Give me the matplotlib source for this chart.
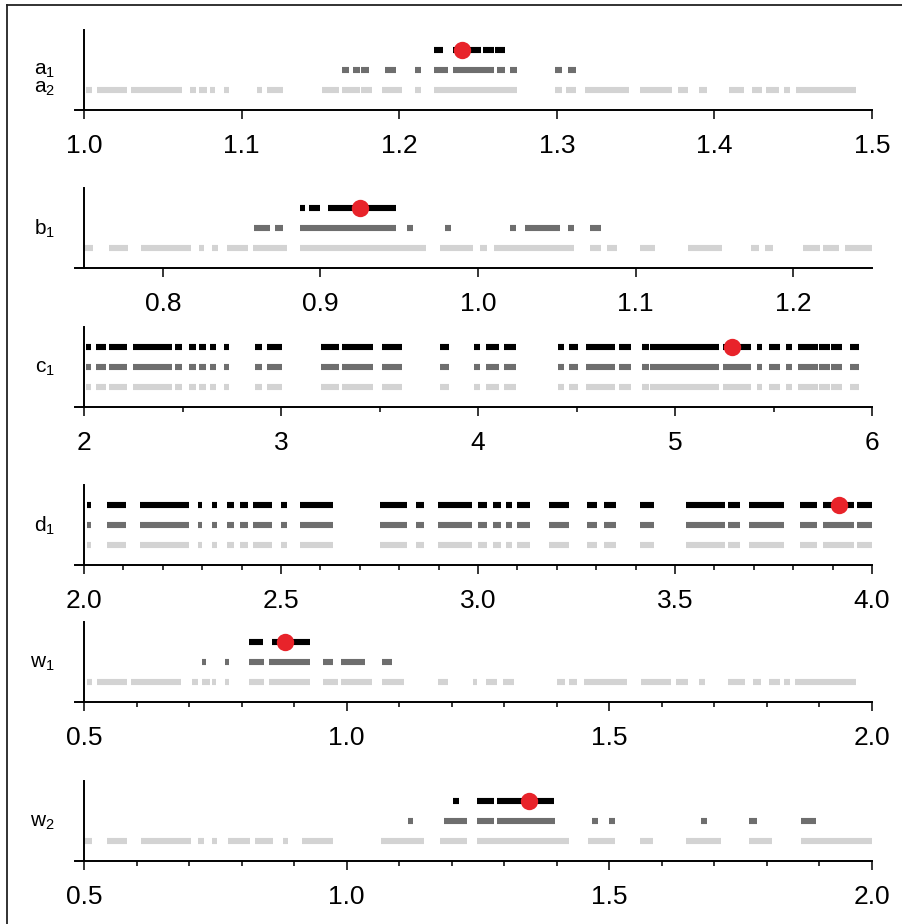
import matplotlib
matplotlib.use("Agg")
import matplotlib.pyplot as plt
from matplotlib.lines import Line2D
from matplotlib.ticker import MultipleLocator, FormatStrFormatter

plt.rcParams["font.family"] = ["Liberation Sans", "DejaVu Sans"]
plt.rcParams["mathtext.fontset"] = "custom"
plt.rcParams["mathtext.rm"] = "Liberation Sans"

# accepted intervals per parameter: three rows (black, dark grey, light grey) and the best fit (red)
a_black = [(1.222, 1.228), (1.234, 1.252), (1.253, 1.260), (1.261, 1.267)]
a_gray = [(1.164, 1.168), (1.171, 1.175), (1.176, 1.181), (1.191, 1.198), (1.210, 1.214),
          (1.222, 1.231), (1.234, 1.260), (1.262, 1.267), (1.270, 1.275), (1.299, 1.303),
          (1.307, 1.312)]
a_light = [(1.001, 1.005), (1.008, 1.027), (1.030, 1.062), (1.067, 1.071), (1.073, 1.078),
           (1.080, 1.083), (1.089, 1.092), (1.110, 1.113), (1.116, 1.126), (1.151, 1.162),
           (1.164, 1.175), (1.176, 1.183), (1.189, 1.202), (1.210, 1.214), (1.222, 1.275),
           (1.299, 1.303), (1.306, 1.312), (1.318, 1.346), (1.353, 1.373), (1.377, 1.383),
           (1.390, 1.395), (1.409, 1.419), (1.424, 1.430), (1.433, 1.441), (1.444, 1.448),
           (1.452, 1.490)]
a_best = 1.240

b_black = [(0.887, 0.890), (0.893, 0.900), (0.905, 0.948)]
b_gray = [(0.858, 0.868), (0.871, 0.876), (0.887, 0.948), (0.955, 0.959), (0.979, 0.983),
          (1.020, 1.024), (1.030, 1.052), (1.057, 1.061), (1.071, 1.078)]
b_light = [(0.750, 0.756), (0.766, 0.778), (0.786, 0.818), (0.823, 0.826), (0.831, 0.835),
           (0.841, 0.854), (0.857, 0.879), (0.887, 0.967), (0.976, 0.997), (1.001, 1.006),
           (1.010, 1.061), (1.071, 1.078), (1.082, 1.088), (1.103, 1.112), (1.133, 1.155),
           (1.173, 1.178), (1.182, 1.187), (1.206, 1.217), (1.219, 1.229), (1.233, 1.250)]
b_best = 0.925

c_all = [(2.009, 2.038), (2.061, 2.111), (2.125, 2.219), (2.248, 2.446), (2.461, 2.499),
         (2.534, 2.569), (2.586, 2.621), (2.639, 2.668), (2.709, 2.738), (2.869, 2.904),
         (2.928, 3.007), (3.205, 3.292), (3.310, 3.468), (3.511, 3.613), (3.805, 3.855),
         (3.978, 4.008), (4.041, 4.105), (4.130, 4.195), (4.407, 4.436), (4.461, 4.509),
         (4.550, 4.695), (4.716, 4.775), (4.835, 4.868), (4.873, 5.221), (5.242, 5.386),
         (5.415, 5.443), (5.476, 5.535), (5.564, 5.593), (5.626, 5.725), (5.733, 5.786),
         (5.793, 5.847), (5.886, 5.932)]
c_best = 5.288

d_all = [(2.007, 2.019), (2.058, 2.106), (2.143, 2.267), (2.289, 2.299), (2.325, 2.337),
         (2.362, 2.381), (2.395, 2.416), (2.430, 2.478), (2.500, 2.515), (2.547, 2.632),
         (2.751, 2.821), (2.843, 2.862), (2.899, 2.985), (3.000, 3.023), (3.037, 3.058),
         (3.072, 3.087), (3.098, 3.131), (3.179, 3.230), (3.276, 3.303), (3.320, 3.349),
         (3.412, 3.446), (3.529, 3.627), (3.635, 3.664), (3.689, 3.776), (3.818, 3.861),
         (3.876, 3.954), (3.961, 4.000)]
d_best = 3.915

w1_black = [(0.815, 0.840), (0.858, 0.930)]
w1_gray = [(0.725, 0.733), (0.769, 0.776), (0.815, 0.842), (0.853, 0.930), (0.955, 0.974),
           (0.990, 1.034), (1.068, 1.086)]
w1_light = [(0.506, 0.516), (0.524, 0.582), (0.590, 0.684), (0.705, 0.717), (0.725, 0.739),
            (0.743, 0.752), (0.769, 0.776), (0.815, 0.842), (0.853, 0.930), (0.955, 0.983),
            (0.990, 1.048), (1.068, 1.109), (1.174, 1.193), (1.240, 1.249), (1.265, 1.287),
            (1.298, 1.319), (1.401, 1.416), (1.423, 1.438), (1.452, 1.533), (1.560, 1.618),
            (1.627, 1.649), (1.670, 1.682), (1.726, 1.759), (1.774, 1.788), (1.803, 1.825),
            (1.833, 1.843), (1.854, 1.969)]
w1_best = 0.882

w2_black = [(1.202, 1.213), (1.248, 1.281), (1.287, 1.394)]
w2_gray = [(1.116, 1.127), (1.185, 1.229), (1.248, 1.281), (1.287, 1.397), (1.467, 1.478),
           (1.500, 1.511), (1.675, 1.686), (1.766, 1.781), (1.865, 1.893)]
w2_light = [(0.502, 0.516), (0.544, 0.582), (0.608, 0.703), (0.717, 0.728), (0.743, 0.754),
            (0.774, 0.816), (0.826, 0.860), (0.878, 0.889), (0.915, 0.974), (1.065, 1.147),
            (1.178, 1.229), (1.248, 1.423), (1.459, 1.511), (1.558, 1.583), (1.646, 1.713),
            (1.766, 1.810), (1.865, 2.000)]
w2_best = 1.348

panels = [
    # labels, rows, best, xlim, major, minor, fmt, top (px)
    (["a$_1$", "a$_2$"], [a_black, a_gray, a_light], a_best, (1.0, 1.5), 0.1, None, "%.1f", 30),
    (["b$_1$"], [b_black, b_gray, b_light], b_best, (0.75, 1.25), 0.1, None, "%.1f", 188),
    (["c$_1$"], [c_all, c_all, c_all], c_best, (2, 6), 1, 0.5, "%d", 327),
    (["d$_1$"], [d_all, d_all, d_all], d_best, (2.0, 4.0), 0.5, 0.1, "%.1f", 485),
    (["w$_1$"], [w1_black, w1_gray, w1_light], w1_best, (0.5, 2.0), 0.5, 0.1, "%.1f", 622),
    (["w$_2$"], [w2_black, w2_gray, w2_light], w2_best, (0.5, 2.0), 0.5, 0.1, "%.1f", 781),
]

row_colors = ["#000000", "#6e6e6e", "#d3d3d3"]
W, H = 902, 924
fig = plt.figure(figsize=(W / 100, H / 100), dpi=100)

# thin frame on the top and left edges
fig.add_artist(Line2D([7 / W, 7 / W], [0, 1 - 5 / H], transform=fig.transFigure, color="#222222", lw=1.3))
fig.add_artist(Line2D([7 / W, 1], [1 - 5 / H, 1 - 5 / H], transform=fig.transFigure, color="#222222", lw=1.3))

spine_x, right_x, ext = 84, 872, 9
panel_h = 80

for labels, rows, best, (lo, hi), major, minor, fmt, top in panels:
    ax = fig.add_axes([(spine_x - ext) / W, 1 - (top + panel_h) / H,
                       (right_x - spine_x + ext) / W, panel_h / H])
    span = hi - lo
    ax.set_xlim(lo - ext * span / (right_x - spine_x), hi)
    ax.set_ylim(0, 4)

    for i, (segs, col) in enumerate(zip(rows, row_colors)):
        y = 3 - i
        ax.hlines([y] * len(segs), [s for s, e in segs], [e for s, e in segs],
                  colors=col, lw=4.4, capstyle="butt")
    ax.plot(best, 3, "o", ms=12.5, color="#e8232a", mec="none", zorder=5, clip_on=False)

    for side in ("top", "right"):
        ax.spines[side].set_visible(False)
    ax.spines["left"].set_position(("data", lo))
    ax.spines["left"].set_linewidth(1.4)
    ax.spines["bottom"].set_linewidth(1.4)
    ax.set_yticks([])
    ax.xaxis.set_major_locator(MultipleLocator(major))
    if minor:
        ax.xaxis.set_minor_locator(MultipleLocator(minor))
    ax.xaxis.set_major_formatter(FormatStrFormatter(fmt))
    ax.tick_params(axis="x", which="major", length=6.5, width=1.1, pad=11, labelsize=19)
    ax.tick_params(axis="x", which="minor", length=3.6, width=1.1)

    # parameter names sit level with the middle row (a2 with the lower one)
    for j, lab in enumerate(labels):
        fig.text(55 / W, 1 - (top + 41 + 18 * j) / H, lab, ha="right", va="center", fontsize=15)

fig.savefig("out.png", dpi=100)
